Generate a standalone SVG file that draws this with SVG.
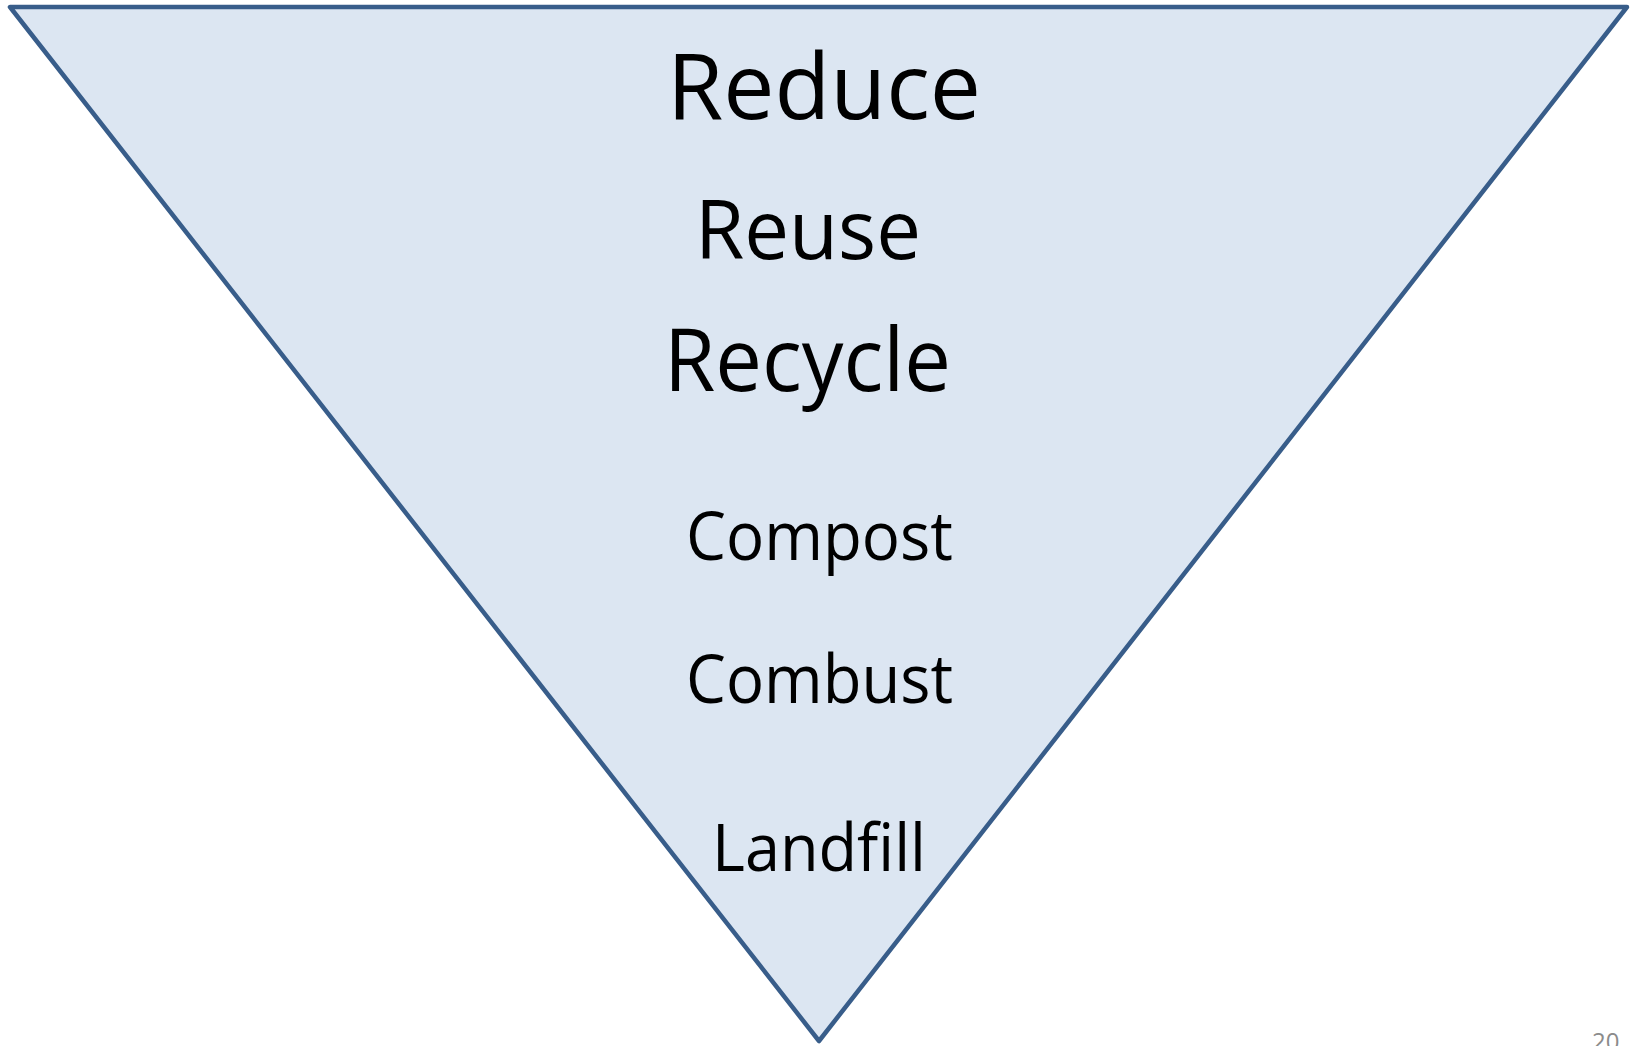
<svg xmlns="http://www.w3.org/2000/svg" width="1635" height="1046" viewBox="0 0 1635 1046">
<style>
.lbl{font-family:"Open Sans","Noto Sans","Liberation Sans",sans-serif;fill:#000000}
.tri{fill:#DCE6F2;stroke:#385D8A;stroke-width:4.5;stroke-linejoin:round}
</style>
<rect width="1635" height="1046" fill="#FFFFFF"/>
<g id="hierarchy">
<polygon class="tri" points="10,7 1627,7 819,1041"/>
</g>
<g id="connectors"></g>
<g id="node-reduce"><text class="lbl" x="667" y="119" font-size="92" textLength="314" lengthAdjust="spacingAndGlyphs">Reduce</text></g>
<g id="node-reuse"><text class="lbl" x="695" y="259" font-size="83" textLength="226" lengthAdjust="spacingAndGlyphs">Reuse</text></g>
<g id="node-recycle"><text class="lbl" x="664" y="391" font-size="88" textLength="287" lengthAdjust="spacingAndGlyphs">Recycle</text></g>
<g id="node-compost"><text class="lbl" x="686" y="560" font-size="67" textLength="267" lengthAdjust="spacingAndGlyphs">Compost</text></g>
<g id="node-combust"><text class="lbl" x="686" y="703" font-size="68" textLength="267" lengthAdjust="spacingAndGlyphs">Combust</text></g>
<g id="node-landfill"><text class="lbl" x="712" y="871" font-size="65" textLength="214" lengthAdjust="spacingAndGlyphs">Landfill</text></g>
<text x="1592" y="1050" font-family="'Open Sans','Liberation Sans',sans-serif" font-size="24" fill="#8B8B8B">20</text>
</svg>
